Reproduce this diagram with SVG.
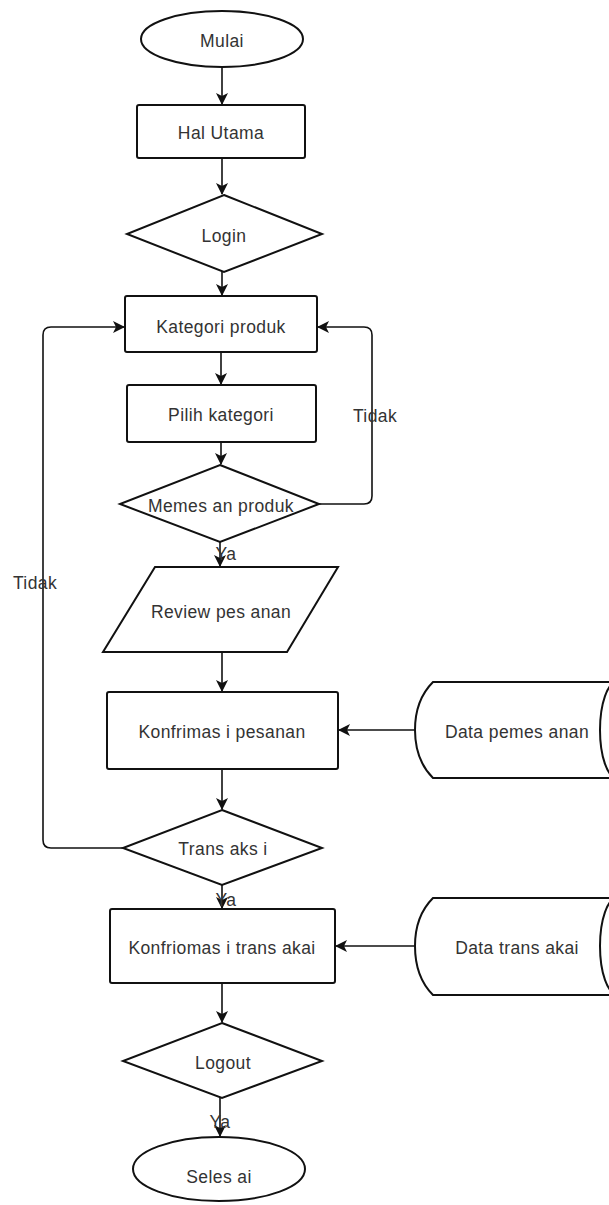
<svg xmlns="http://www.w3.org/2000/svg" width="609" height="1205" viewBox="0 0 609 1205">
<style>
.s{fill:#fff;stroke:#111;stroke-width:2}
.t{font-family:"Liberation Sans",Arial,sans-serif;font-size:17.5px;fill:#333;text-anchor:middle;dominant-baseline:central;letter-spacing:0.4px}
.c{fill:none;stroke:#111;stroke-width:1.6}
</style>
<defs>
<marker id="a" markerWidth="12" markerHeight="12" refX="11" refY="6" orient="auto" markerUnits="userSpaceOnUse">
<path d="M0,0 L12,6 L0,12 L3,6 Z" fill="#111"/>
</marker>
</defs>
<rect width="609" height="1205" fill="#fff"/>
<g id="connectors">
<path class="c" d="M222,67 V104" marker-end="url(#a)"/>
<path class="c" d="M222,158 V194" marker-end="url(#a)"/>
<path class="c" d="M222,272 V295" marker-end="url(#a)"/>
<path class="c" d="M221,352 V384" marker-end="url(#a)"/>
<path class="c" d="M221,442 V464" marker-end="url(#a)"/>
<path class="c" d="M319,504 H364 Q372,504 372,496 V335 Q372,327 364,327 H318" marker-end="url(#a)"/>
<path class="c" d="M220,542 V566" marker-end="url(#a)"/>
<path class="c" d="M222,652 V691" marker-end="url(#a)"/>
<path class="c" d="M415,730 H339" marker-end="url(#a)"/>
<path class="c" d="M222,769 V809" marker-end="url(#a)"/>
<path class="c" d="M123,848 H51 Q43,848 43,840 V335 Q43,327 51,327 H124" marker-end="url(#a)"/>
<path class="c" d="M222,885 V908" marker-end="url(#a)"/>
<path class="c" d="M415,946 H336" marker-end="url(#a)"/>
<path class="c" d="M222,983 V1022" marker-end="url(#a)"/>
<path class="c" d="M220,1098 V1136" marker-end="url(#a)"/>
<text class="t" x="375" y="416">Tidak</text>
<text class="t" x="35" y="583">Tidak</text>
<text class="t" x="226" y="554">Ya</text>
<text class="t" x="226" y="900">Ya</text>
<text class="t" x="220" y="1122">Ya</text>
</g>
<g id="mulai"><ellipse class="s" cx="222" cy="39" rx="81" ry="28"/><text class="t" x="222" y="41">Mulai</text></g>
<g id="hal-utama"><rect class="s" x="137" y="105" width="168" height="53" rx="2"/><text class="t" x="221" y="133">Hal Utama</text></g>
<g id="login"><polygon class="s" points="224,195 322,234 224,272 127,234"/><text class="t" x="224" y="236">Login</text></g>
<g id="kategori-produk"><rect class="s" x="125" y="296" width="192" height="56" rx="2"/><text class="t" x="221" y="327">Kategori produk</text></g>
<g id="pilih-kategori"><rect class="s" x="127" y="385" width="189" height="57" rx="2"/><text class="t" x="221" y="415">Pilih kategori</text></g>
<g id="memesan-produk"><polygon class="s" points="220,465 319,504 220,542 120,504"/><text class="t" x="221" y="506">Memes an produk</text></g>
<g id="review-pesanan"><polygon class="s" points="155,567 338,567 287,652 103,652"/><text class="t" x="221" y="612">Review pes anan</text></g>
<g id="konfirmasi-pesanan"><rect class="s" x="107" y="692" width="231" height="77" rx="2"/><text class="t" x="222" y="732">Konfrimas i pesanan</text></g>
<g id="data-pemesanan"><path class="s" d="M433,682 H640 V778 H433 Q415,760 415,730 Q415,700 433,682 Z"/><ellipse class="s" cx="617" cy="730" rx="17" ry="48"/><text class="t" x="517" y="732">Data pemes anan</text></g>
<g id="transaksi"><polygon class="s" points="222,810 322,848 222,885 123,848"/><text class="t" x="223" y="849">Trans aks i</text></g>
<g id="konfirmasi-transaksi"><rect class="s" x="110" y="909" width="225" height="74" rx="2"/><text class="t" x="222" y="948">Konfriomas i trans akai</text></g>
<g id="data-transaksi"><path class="s" d="M433,898 H640 V995 H433 Q415,977 415,946 Q415,916 433,898 Z"/><ellipse class="s" cx="617" cy="946" rx="17" ry="48"/><text class="t" x="517" y="948">Data trans akai</text></g>
<g id="logout"><polygon class="s" points="222,1023 322,1061 222,1098 123,1061"/><text class="t" x="223" y="1063">Logout</text></g>
<g id="selesai"><ellipse class="s" cx="219" cy="1169" rx="86" ry="32"/><text class="t" x="219" y="1177">Seles ai</text></g>
</svg>
